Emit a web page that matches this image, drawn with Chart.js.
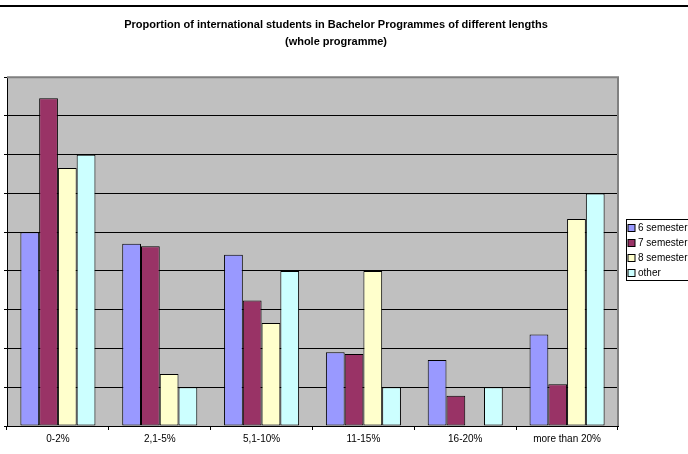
<!DOCTYPE html>
<html>
<head>
<meta charset="utf-8">
<script src="https://cdn.jsdelivr.net/npm/chart.js@4"></script>
<style>
  html, body { margin: 0; padding: 0; background: #fff; }
  #wrap { position: relative; width: 688px; height: 454px; overflow: hidden; }
</style>
</head>
<body>
<div id="wrap"><canvas id="chart"></canvas></div>
<script>
const categories = ['0-2%', '2,1-5%', '5,1-10%', '11-15%', '16-20%', 'more than 20%'];
const sem6 = [25, 23.5, 22.1, 9.5, 8.5, 11.8];
const sem7 = [42.3, 23.2, 16.2, 9.3, 3.9, 5.4];
const sem8 = [33.3, 6.7, 13.3, 20, 0, 26.7];
const other = [35, 5, 20, 5, 5, 30];
const seriesNames = ['6 semester', '7 semester', '8 semester', 'other'];
const seriesColors = ['#9999ff', '#993366', '#ffffcc', '#ccffff'];
const yMax = 45;
const yStep = 5;

const FONT = 'Liberation Sans, Arial, sans-serif';

// legend lives in its own layout box on the right of the plot
const legendBox = {
  position: 'right',
  weight: 0,
  fullSize: false,
  options: {},
  left: 0, top: 0, right: 0, bottom: 0, width: 0, height: 0,
  isHorizontal() { return false; },
  update(maxWidth, maxHeight) {
    this.width = 50;
    this.height = maxHeight;
  },
  draw(area) {
    const c = this.chart.ctx;
    const rows = this.chart.data.datasets;
    const h = 61;
    const top = Math.round((area.top + area.bottom) / 2 - h / 2) - 1.5;
    const x = Math.round(this.left) + 8.5;
    c.save();
    c.fillStyle = '#fff';
    c.fillRect(x, top, 80, h);
    c.strokeStyle = '#000';
    c.lineWidth = 1;
    c.strokeRect(x, top, 80, h);
    c.font = '10px ' + FONT;
    c.textBaseline = 'middle';
    rows.forEach((ds, i) => {
      const cy = top + 8.5 + i * 15;
      c.fillStyle = ds.backgroundColor;
      c.fillRect(x + 1.5, cy - 3.5, 7, 7);
      c.strokeRect(x + 1.5, cy - 3.5, 7, 7);
      c.fillStyle = '#000';
      c.fillText(ds.label, x + 11.5, cy);
    });
    c.restore();
  }
};

const frame = {
  id: 'frame',
  beforeInit(chart) {
    legendBox.chart = chart;
    Chart.layouts.addBox(chart, legendBox);
  },
  beforeDraw(chart) {
    const { ctx, chartArea: a, width } = chart;
    ctx.save();
    // rule across the top of the sheet
    ctx.fillStyle = '#000';
    ctx.fillRect(0, 5, width, 2);
    // grey plot area
    ctx.fillStyle = '#c0c0c0';
    ctx.fillRect(a.left, a.top, a.right - a.left, a.bottom - a.top);
    ctx.restore();
  },
  beforeDatasetsDraw(chart) {
    const { ctx, chartArea: a } = chart;
    ctx.save();
    ctx.strokeStyle = '#808080';
    ctx.lineWidth = 2;
    ctx.beginPath();
    ctx.moveTo(a.left, a.top);
    ctx.lineTo(a.right, a.top);
    ctx.lineTo(a.right, a.bottom);
    ctx.stroke();
    ctx.restore();
  }
};

const values = [sem6, sem7, sem8, other];

new Chart(document.getElementById('chart'), {
  type: 'bar',
  data: {
    labels: categories,
    datasets: values.map((v, i) => ({
      label: seriesNames[i],
      data: v,
      backgroundColor: seriesColors[i],
      borderColor: '#000',
      borderWidth: 1,
      borderSkipped: false,
      barPercentage: 1,
      categoryPercentage: 0.737
    }))
  },
  options: {
    responsive: true,
    maintainAspectRatio: false,
    animation: false,
    layout: { padding: { top: 0, left: 4, right: 20, bottom: 6 } },
    plugins: {
      legend: { display: false },
      tooltip: { enabled: false },
      title: {
        display: true,
        text: ['Proportion of international students in Bachelor Programmes of different lengths', '(whole programme)'],
        color: '#000',
        font: { family: FONT, size: 11, weight: 'bold', lineHeight: 1.6 },
        padding: { top: 16, bottom: 26 }
      }
    },
    scales: {
      x: {
        grid: { display: true, drawOnChartArea: false, drawTicks: true, tickLength: 4, color: '#000', offset: true },
        border: { display: true, color: '#000', width: 1 },
        ticks: { color: '#000', font: { family: FONT, size: 10 }, padding: 3, maxRotation: 0 }
      },
      y: {
        min: 0,
        max: yMax,
        grid: {
          color: c => c.tick && c.tick.value === yMax ? '#808080' : '#000',
          lineWidth: 1,
          drawTicks: true,
          tickLength: 3,
          tickColor: '#000'
        },
        border: { display: true, color: '#000', width: 1 },
        ticks: { display: false, stepSize: yStep }
      }
    }
  },
  plugins: [frame]
});
</script>
</body>
</html>
